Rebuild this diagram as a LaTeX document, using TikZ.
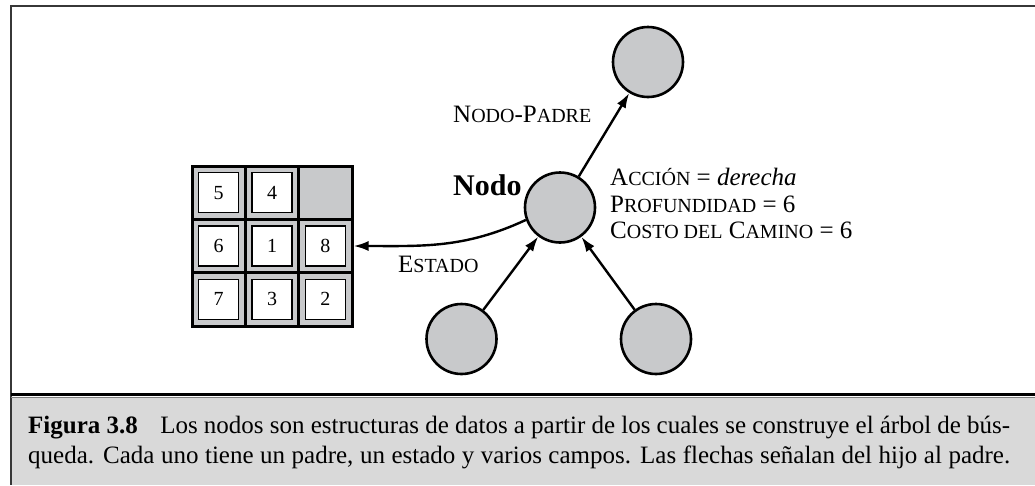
\documentclass[tikz,border=0pt]{standalone}
\usepackage{fontspec}
\setmainfont{Liberation Serif}
\usetikzlibrary{arrows.meta, positioning}
\definecolor{grisnodo}{RGB}{200,201,203}
\definecolor{grisleyenda}{RGB}{217,217,217}
\definecolor{marco}{RGB}{55,55,55}
\newcommand{\versalita}[1]{{\fontsize{20}{20}\selectfont #1}}
\tikzset{
>={Latex[length=15pt,width=10pt]},
nodoarbol/.style={circle, draw, line width=2.6pt, fill=grisnodo, minimum size=70pt, inner sep=0pt},
ficha/.style={draw, line width=1.4pt, fill=white, minimum size=40pt, inner sep=0pt, font=\fontsize{20}{20}\selectfont},
enlace/.style={->, line width=2.4pt},
campo/.style={anchor=base west, inner sep=0pt, font=\fontsize{25}{26}\selectfont},
leyenda/.style={anchor=base west, inner sep=0pt, font=\fontsize{25}{30}\selectfont},
}

\begin{document}
\begin{tikzpicture}[x=1pt, y=-1pt]
            \useasboundingbox (0,0) rectangle (1035,485);

            % Marco y leyenda
            \fill[grisleyenda] (11,398) rectangle (1035,485);
            \draw[marco, line width=2pt] (1035,6) -- (11,6) -- (11,485);
            \draw[line width=3.5pt] (11,394.5) -- (1035,394.5);
            \draw[gray, line width=1.5pt] (11,397.5) -- (1035,397.5);
            \node[leyenda] (leyenda1) at (28,433)
                {\makebox[982pt][s]{\textbf{Figura 3.8}\hspace{0.9em}Los nodos son estructuras de datos a partir de los cuales se construye el árbol de bús-}};
            \node[leyenda] (leyenda2) at (28,463)
                {\makebox[982pt][s]{queda. Cada uno tiene un padre, un estado y varios campos. Las flechas señalan del hijo al padre.}};

            % Tablero del 8-puzle
            \node[draw, line width=3pt, fill=grisnodo, minimum size=160pt, inner sep=0pt] (tablero) at (272,246) {};
            \foreach \k in {1,2} {
                \draw[line width=3pt] (192+53.33*\k,166) -- (192+53.33*\k,326);
                \draw[line width=3pt] (192,166+53.33*\k) -- (352,166+53.33*\k);
            }
            \foreach \c/\f/\n in {0/0/5, 1/0/4, 0/1/6, 1/1/1, 2/1/8, 0/2/7, 1/2/3, 2/2/2}
                \node[ficha] (f\n) at (218.67+53.33*\c, 192.67+53.33*\f) {\n};

            % Nodos del arbol
            \node[nodoarbol] (nodo) at (560,207.5) {};
            \node[nodoarbol] (padre) at (648,62) {};
            \node[nodoarbol] (hijoizq) at (461.5,339) {};
            \node[nodoarbol] (hijoder) at (656,339) {};

            % Textos
            \node[anchor=base west, inner sep=0pt, font=\fontsize{30}{30}\selectfont\bfseries] (etiqnodo) at (453,195) {Nodo};
            \node[campo] (etiqpadre) at (453,122) {N\versalita{ODO}-P\versalita{ADRE}};
            \node[campo] (etiqestado) at (398,272) {E\versalita{STADO}};
            \node[campo] (accion) at (610,185) {A\versalita{CCIÓN} = \textit{derecha}};
            \node[campo] (prof) at (610,212) {P\versalita{ROFUNDIDAD} = 6};
            \node[campo] (costo) at (610,238) {C\versalita{OSTO DEL} C\versalita{AMINO} = 6};

            % Flechas del hijo al padre
            \draw[enlace] (nodo) -- (padre);
            \draw[enlace] (hijoizq) -- (nodo);
            \draw[enlace] (hijoder) -- (nodo);
            \draw[enlace] (nodo.200) to[out=205, in=0] (tablero.east);
\end{tikzpicture}
\end{document}
